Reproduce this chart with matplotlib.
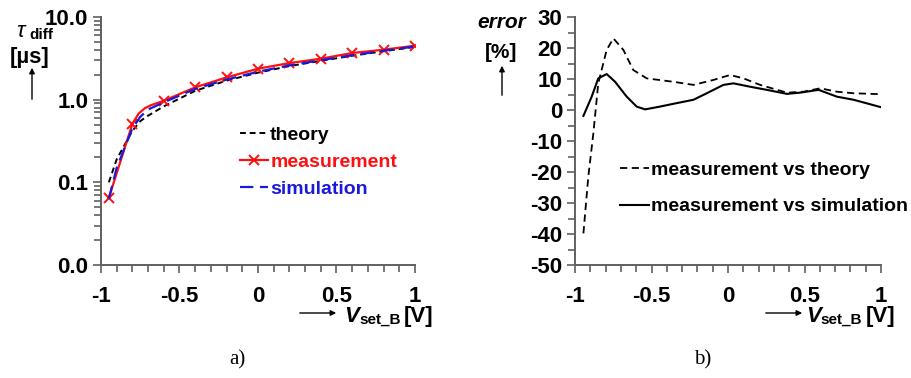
import matplotlib
matplotlib.use("Agg")
import matplotlib.pyplot as plt
from matplotlib.ticker import FixedLocator, FixedFormatter, LogLocator, MultipleLocator, NullFormatter

plt.rcParams.update({"font.family": "Liberation Sans", "font.weight": "bold",
                     "axes.unicode_minus": False})

# ---- data: panel a) ----
meas_x = [-0.95, -0.8, -0.6, -0.4, -0.2, 0.0, 0.2, 0.4, 0.6, 0.8, 1.0]
meas_y = [0.065, 0.51, 0.97, 1.41, 1.86, 2.37, 2.77, 3.13, 3.67, 4.02, 4.5]
meas_curve_x = [-0.95, -0.8, -0.76, -0.72, -0.68, -0.6, -0.4, -0.2, 0.0, 0.2, 0.4, 0.6, 0.8, 1.0]
meas_curve_y = [0.065, 0.51, 0.68, 0.79, 0.86, 0.97, 1.41, 1.86, 2.37, 2.77, 3.13, 3.67, 4.02, 4.5]
theory_x = [-0.95, -0.9, -0.8, -0.75, -0.7, -0.6, -0.4, -0.2, 0.0, 0.2, 0.4, 0.6, 0.8, 1.0]
theory_y = [0.10, 0.19, 0.42, 0.55, 0.64, 0.83, 1.28, 1.70, 2.12, 2.55, 2.95, 3.40, 3.85, 4.35]
sim_x = [-0.95, -0.9, -0.8, -0.75, -0.7, -0.6, -0.4, -0.2, 0.0, 0.2, 0.4, 0.6, 0.8, 1.0]
sim_y = [0.063, 0.15, 0.45, 0.62, 0.76, 0.93, 1.35, 1.75, 2.18, 2.60, 3.00, 3.45, 3.90, 4.40]

# ---- data: panel b) ----
err_theory_x = [-0.945, -0.913, -0.88, -0.848, -0.793, -0.749, -0.684, -0.619, -0.531, -0.357,
                -0.226, -0.095, 0.014, 0.101, 0.21, 0.385, 0.494, 0.603, 0.712, 0.821, 1.0]
err_theory_y = [-39.8, -21.5, -7.5, 8.6, 19.4, 23.1, 19.4, 12.9, 10.2, 9.1,
                8.1, 9.7, 11.3, 10.2, 8.1, 5.6, 5.9, 7.0, 5.9, 5.4, 5.1]
err_sim_x = [-0.945, -0.891, -0.848, -0.793, -0.738, -0.662, -0.597, -0.542, -0.444, -0.357,
             -0.226, -0.139, -0.03, 0.036, 0.145, 0.254, 0.385, 0.472, 0.592, 0.712, 0.821, 1.0]
err_sim_y = [-1.9, 4.3, 10.2, 11.6, 9.1, 4.3, 1.1, 0.2, 1.1, 2.0,
             3.3, 5.4, 8.1, 8.6, 7.5, 6.5, 5.2, 5.6, 6.5, 4.3, 3.3, 0.9]

W, H = 912, 378
fig = plt.figure(figsize=(W / 100, H / 100), dpi=100)

def px(x, y):
    return x / W, 1 - y / H

SPINE = "#606060"
TICK_FS = 16

def style_axes(ax):
    for s in ("top", "right"):
        ax.spines[s].set_visible(False)
    for s in ("left", "bottom"):
        ax.spines[s].set_color(SPINE)
        ax.spines[s].set_linewidth(1.4)
    ax.tick_params(which="both", color=SPINE, width=1.2, direction="out")
    ax.tick_params(which="major", length=6, labelsize=TICK_FS, pad=3)
    ax.tick_params(which="minor", length=5)
    ax.xaxis.set_major_locator(FixedLocator([-1, -0.5, 0, 0.5, 1]))
    ax.xaxis.set_major_formatter(FixedFormatter(["-1", "-0.5", "0", "0.5", "1"]))
    ax.xaxis.set_minor_locator(MultipleLocator(0.1))
    ax.set_xlim(-1, 1)
    ax.tick_params(axis="x", which="major", pad=9)

# ---- panel a) ----
ax1 = fig.add_axes([101 / W, 1 - 265 / H, 314 / W, 248 / H])
style_axes(ax1)
ax1.set_yscale("log")
ax1.set_ylim(0.01, 10)
ax1.yaxis.set_major_locator(FixedLocator([0.01, 0.1, 1, 10]))
ax1.yaxis.set_major_formatter(FixedFormatter(["0.0", "0.1", "1.0", "10.0"]))
ax1.yaxis.set_minor_locator(LogLocator(base=10, subs=range(2, 10)))
ax1.yaxis.set_minor_formatter(NullFormatter())

ax1.plot(theory_x, theory_y, color="black", lw=1.4, ls=(0, (3, 2)))
ax1.plot(meas_curve_x, meas_curve_y, color="#ff1010", lw=1.6)
ax1.plot(meas_x, meas_y, color="#ff1010", lw=0, marker="x", ms=7, mew=1.4)
ax1.plot(sim_x, sim_y, color="#1a1adc", lw=1.6, ls=(0, (6, 3)))
# legend proxies
h_th, = ax1.plot([], [], color="black", lw=1.4, ls=(0, (3, 2)))
h_me, = ax1.plot([], [], color="#ff1010", lw=1.6, marker="x", ms=7, mew=1.4)
h_si, = ax1.plot([], [], color="#1a1adc", lw=1.6, ls=(0, (6, 3)))
ax1.legend([h_th, h_me, h_si], ["theory", "measurement", "simulation"],
           loc="upper left", bbox_to_anchor=(0.418, 0.592), frameon=False,
           handlelength=1.45, handletextpad=0.1, labelspacing=0.5,
           prop={"weight": "bold", "size": 14}, labelcolor="linecolor",
           borderaxespad=0)

# ---- panel b) ----
ax2 = fig.add_axes([575 / W, 1 - 265 / H, 306 / W, 248 / H])
style_axes(ax2)
ax2.set_ylim(-50, 30)
ax2.yaxis.set_major_locator(MultipleLocator(10))
ax2.yaxis.set_minor_locator(MultipleLocator(5))
ax2.plot(err_theory_x, err_theory_y, color="black", lw=1.3, ls=(0, (4, 2.5)),
         label="measurement vs theory")
ax2.plot(err_sim_x, err_sim_y, color="black", lw=1.5, label="measurement vs simulation")
ax2.legend(loc="upper left", bbox_to_anchor=(0.121, 0.448), frameon=False,
           handlelength=1.5, handletextpad=0.1, labelspacing=0.95,
           prop={"weight": "bold", "size": 14}, borderaxespad=0)

# ---- axis labels drawn as free text ----
arrow = dict(arrowstyle="-|>", color="black", lw=1.0, mutation_scale=8)

def xlabel(x_arrow0, x_arrow1, x_v, x_sub, x_unit):
    fig.patches.append(matplotlib.patches.FancyArrowPatch(
        px(x_arrow0, 313), px(x_arrow1, 313), transform=fig.transFigure, **arrow))
    fig.text(*px(x_v, 322), "V", fontsize=16, fontweight="bold", style="italic", va="baseline")
    fig.text(*px(x_sub, 324), "set_B", fontsize=11, fontweight="bold", va="baseline")
    fig.text(*px(x_unit, 322), "[V]", fontsize=16, fontweight="bold", va="baseline")

xlabel(297, 339, 344, 359, 404)
xlabel(763, 805, 806, 820, 866)

# panel a) y label
fig.text(*px(16, 37), "τ", fontsize=16, style="italic", fontweight="normal", va="baseline")
fig.text(*px(29, 39), "diff", fontsize=11, fontweight="bold", va="baseline")
fig.text(*px(10, 63), "[µs]", fontsize=16, fontweight="bold", va="baseline")
fig.patches.append(matplotlib.patches.FancyArrowPatch(
    px(32, 102), px(32, 65), transform=fig.transFigure, **arrow))

# panel b) y label
fig.text(*px(477, 28), "error", fontsize=15, fontweight="bold", style="italic", va="baseline")
fig.text(*px(485, 58), "[%]", fontsize=15, fontweight="bold", va="baseline")
fig.patches.append(matplotlib.patches.FancyArrowPatch(
    px(502, 98), px(502, 63), transform=fig.transFigure, **arrow))

# captions
fig.text(*px(237, 360), "a)", fontsize=15, family="Liberation Serif", fontweight="normal",
         ha="center", va="center")
fig.text(*px(703, 360), "b)", fontsize=15, family="Liberation Serif", fontweight="normal",
         ha="center", va="center")

plt.savefig("out.png", dpi=100)
plt.close()
